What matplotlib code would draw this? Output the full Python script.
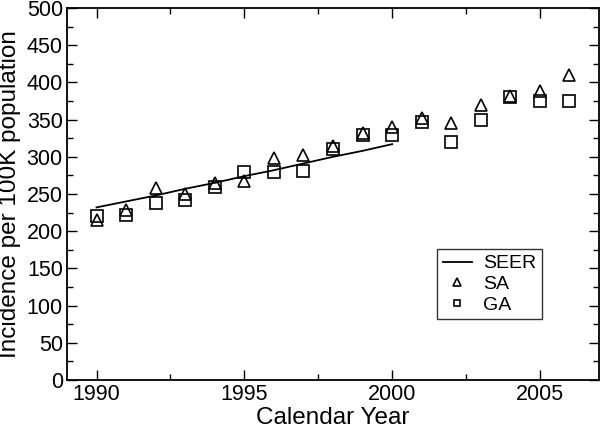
import matplotlib
matplotlib.use("Agg")
import matplotlib.pyplot as plt
from matplotlib.ticker import MultipleLocator

plt.rcParams['font.family'] = ['Liberation Sans', 'DejaVu Sans']

years = list(range(1990, 2007))
sa = [215, 228, 258, 250, 265, 267, 298, 302, 315, 332, 340, 352, 346, 370, 382, 388, 410]
ga = [221, 222, 238, 242, 260, 280, 279, 281, 311, 329, 329, 347, 320, 349, 380, 375, 375]
seer_years = list(range(1990, 2001))
seer = [232, 240, 248, 257, 265, 274, 282, 291, 300, 308, 317]

fig = plt.figure(figsize=(6.01, 4.30), dpi=100)
ax = fig.add_axes([0.1115, 0.1163, 0.8852, 0.8651])

ax.plot(seer_years, seer, color='black', lw=1.3, label='SEER')
ax.plot(years, sa, linestyle='none', marker='^', markersize=9, markerfacecolor='none',
        markeredgecolor='black', markeredgewidth=1.2, label='SA')
ax.plot(years, ga, linestyle='none', marker='s', markersize=8, markerfacecolor='none',
        markeredgecolor='black', markeredgewidth=1.2, label='GA')

ax.set_xlim(1989, 2007)
ax.set_ylim(0, 500)
ax.xaxis.set_major_locator(MultipleLocator(5))
ax.xaxis.set_minor_locator(MultipleLocator(2.5))
ax.yaxis.set_major_locator(MultipleLocator(50))
ax.yaxis.set_minor_locator(MultipleLocator(25))
ax.tick_params(which='both', direction='in', top=True, right=True, labelsize=15.5, width=1)
ax.tick_params(which='major', length=7, pad=3)
ax.tick_params(which='minor', length=4)
for s in ax.spines.values():
    s.set_linewidth(1.3)

ax.set_xlabel('Calendar Year', fontsize=17.5, labelpad=1)
ax.set_ylabel('Incidence per 100K population', fontsize=17.5, labelpad=4)

leg = ax.legend(loc='upper left', bbox_to_anchor=(0.695, 0.352), fontsize=14,
                frameon=True, fancybox=False, edgecolor='black', markerscale=0.6,
                handlelength=1.5, borderpad=0.3, labelspacing=0.15, handletextpad=0.6,
                borderaxespad=0)
leg.get_frame().set_linewidth(1.0)

fig.savefig('out.png', dpi=100)
